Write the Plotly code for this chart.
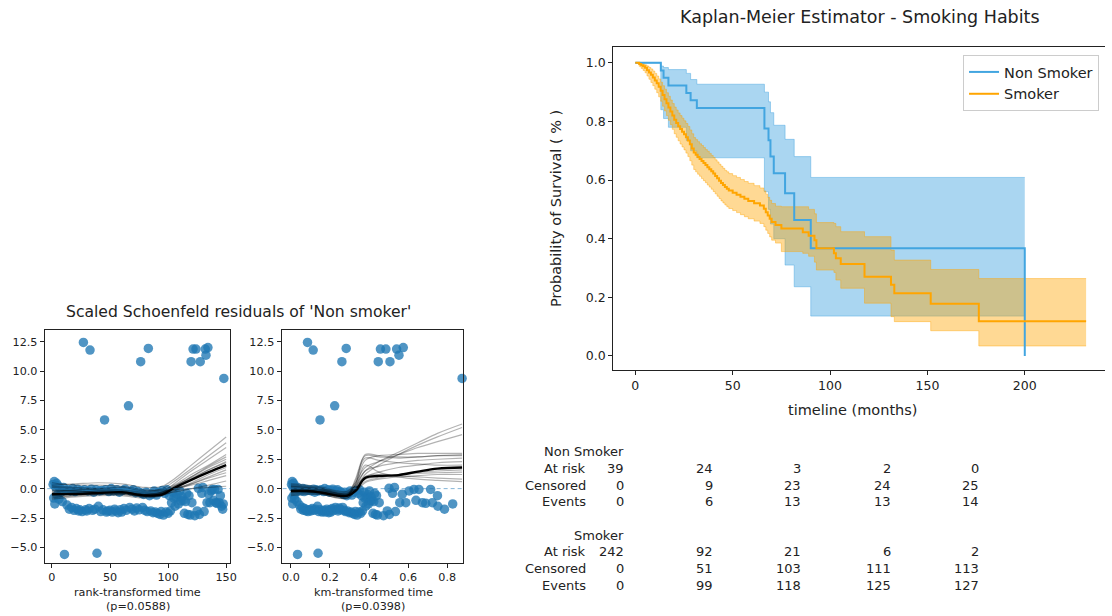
import plotly.graph_objects as go

W, H = 1112, 616
FONT = "DejaVu Sans"

# ---------------- Kaplan-Meier: Non Smoker ----------------
ns_time = [0, 13.1, 14.5, 17.0, 26.2, 28.4, 31.6, 66.3, 68.4, 69.4, 71.1, 76.9, 81.6, 90.1, 200.0]
ns_surv = [1.0, 0.974, 0.949, 0.923, 0.897, 0.872, 0.846, 0.776, 0.736, 0.680, 0.623, 0.555, 0.464, 0.367, 0.0]
ns_ci_time = [0, 13.1, 14.5, 17.0, 26.2, 28.4, 31.6, 66.3, 68.4, 69.4, 71.1, 76.9, 81.6, 90.1, 200.0]
ns_ci_upper = [1.0, 0.989, 0.984, 0.977, 0.964, 0.943, 0.927, 0.900, 0.867, 0.830, 0.787, 0.739, 0.680, 0.609, 0.609]
ns_ci_lower = [1.0, 0.840, 0.810, 0.780, 0.735, 0.700, 0.676, 0.560, 0.500, 0.450, 0.400, 0.310, 0.236, 0.136, 0.136]

# ---------------- Kaplan-Meier: Smoker ----------------
sm_time = [0, 2, 3, 4, 5, 6, 7, 8, 9, 10,
           11, 12, 13, 14, 15, 16, 17, 18, 19, 20,
           21, 22, 23, 24, 25, 26, 27, 28, 29, 30,
           31, 32, 33, 34, 35, 36, 37, 38, 39, 40,
           41, 42, 43, 44, 45, 46, 47, 48, 50, 52,
           54, 56, 58, 61, 64, 66, 67, 68, 69, 70,
           72, 75, 86, 89, 92, 93, 102, 103, 105.5, 117.7,
           131.3, 133, 151.7, 176.4, 231.5]
sm_surv = [1.0, 0.996, 0.992, 0.988, 0.983, 0.975, 0.967, 0.959, 0.950, 0.940,
           0.930, 0.918, 0.905, 0.890, 0.876, 0.862, 0.848, 0.834, 0.820, 0.806,
           0.795, 0.784, 0.774, 0.765, 0.756, 0.746, 0.735, 0.722, 0.708, 0.694,
           0.686, 0.679, 0.672, 0.665, 0.658, 0.651, 0.644, 0.637, 0.630, 0.622,
           0.614, 0.606, 0.598, 0.590, 0.583, 0.576, 0.570, 0.564, 0.557, 0.550,
           0.543, 0.536, 0.529, 0.521, 0.513, 0.502, 0.490, 0.479, 0.468, 0.457,
           0.447, 0.435, 0.422, 0.410, 0.395, 0.367, 0.350, 0.333, 0.314, 0.270,
           0.243, 0.214, 0.178, 0.118, 0.118]
sm_ci_lower = [1.0, 0.988, 0.981, 0.974, 0.966, 0.955, 0.944, 0.933, 0.922, 0.910,
               0.898, 0.884, 0.869, 0.852, 0.836, 0.820, 0.804, 0.789, 0.773, 0.758,
               0.746, 0.734, 0.723, 0.713, 0.703, 0.692, 0.680, 0.666, 0.651, 0.636,
               0.628, 0.620, 0.613, 0.605, 0.598, 0.591, 0.583, 0.576, 0.569, 0.561,
               0.553, 0.545, 0.537, 0.529, 0.522, 0.515, 0.509, 0.503, 0.496, 0.489,
               0.482, 0.475, 0.468, 0.460, 0.452, 0.441, 0.429, 0.418, 0.406, 0.395,
               0.385, 0.356, 0.350, 0.340, 0.320, 0.293, 0.285, 0.259, 0.231, 0.180,
               0.134, 0.117, 0.086, 0.034, 0.034]
sm_ci_upper = [1.0, 0.999, 0.998, 0.996, 0.993, 0.989, 0.984, 0.979, 0.972, 0.964,
               0.955, 0.945, 0.934, 0.922, 0.910, 0.898, 0.886, 0.873, 0.861, 0.849,
               0.839, 0.829, 0.820, 0.811, 0.802, 0.793, 0.783, 0.771, 0.758, 0.745,
               0.738, 0.731, 0.724, 0.718, 0.711, 0.704, 0.698, 0.691, 0.684, 0.677,
               0.669, 0.662, 0.654, 0.647, 0.640, 0.633, 0.628, 0.622, 0.615, 0.609,
               0.602, 0.595, 0.589, 0.581, 0.573, 0.563, 0.552, 0.541, 0.531, 0.520,
               0.511, 0.509, 0.509, 0.500, 0.485, 0.455, 0.452, 0.441, 0.424, 0.407,
               0.361, 0.327, 0.295, 0.264, 0.264]

# ---------------- Number-at-risk table ----------------
risk_groups = ["Non Smoker", "Smoker"]
risk_rows = ["At risk", "Censored", "Events"]
ns_counts = [[39, 24, 3, 2, 0], [0, 9, 23, 24, 25], [0, 6, 13, 13, 14]]
sm_counts = [[242, 92, 21, 6, 2], [0, 51, 103, 111, 113], [0, 99, 118, 125, 127]]

# ---------------- Scaled Schoenfeld residuals ('Non smoker') ----------------
res_rank = [1, 1.5, 2, 2.5, 3, 4, 4.5, 5, 6, 7,
            8, 9, 10, 12, 13, 14, 15, 16, 17, 18,
            19, 20, 21, 22, 23, 24, 25, 26, 28, 29,
            30, 31, 32, 34, 35, 36, 37, 38, 40, 41,
            42, 43, 44, 46, 47, 48, 49, 50, 51, 52,
            53, 54, 55, 56, 57, 58, 59, 60, 61, 62,
            63, 64, 67, 68, 69, 70, 71, 72, 73, 74,
            75, 77, 78, 79, 80, 81, 82, 84, 85, 86,
            87, 88, 89, 90, 91, 92, 93, 94, 95, 96,
            97, 98, 99, 100, 101, 102, 103, 104, 105, 106,
            107, 108, 109, 110, 111, 112, 113, 114, 115, 116,
            117, 118, 119, 120.5, 123, 125, 126, 127, 129, 130,
            131, 133.5, 135, 136, 137, 138, 139, 140, 141, 142,
            143, 144, 145, 146, 147, 147.5,
            27.1, 32.8, 45.3, 65.9, 76.4, 83.0, 119.8, 121.5, 124.0, 127.7,
            132.0, 132.6, 134.3, 148.0, 10.8, 38.8]
res_km = [0.003, 0.005, 0.007, 0.009, 0.010, 0.014, 0.015, 0.017, 0.020, 0.024,
          0.027, 0.031, 0.034, 0.041, 0.044, 0.048, 0.051, 0.054, 0.058, 0.061,
          0.065, 0.068, 0.071, 0.075, 0.078, 0.082, 0.085, 0.088, 0.095, 0.099,
          0.102, 0.105, 0.109, 0.116, 0.119, 0.122, 0.126, 0.129, 0.136, 0.139,
          0.143, 0.146, 0.150, 0.156, 0.160, 0.163, 0.167, 0.170, 0.173, 0.177,
          0.180, 0.184, 0.187, 0.190, 0.194, 0.197, 0.201, 0.204, 0.207, 0.211,
          0.214, 0.218, 0.228, 0.231, 0.235, 0.238, 0.241, 0.245, 0.248, 0.252,
          0.255, 0.262, 0.265, 0.269, 0.272, 0.275, 0.279, 0.286, 0.289, 0.294,
          0.298, 0.303, 0.307, 0.312, 0.316, 0.321, 0.325, 0.330, 0.334, 0.339,
          0.343, 0.348, 0.352, 0.357, 0.361, 0.366, 0.370, 0.375, 0.379, 0.384,
          0.388, 0.393, 0.397, 0.402, 0.406, 0.411, 0.415, 0.420, 0.424, 0.429,
          0.433, 0.438, 0.443, 0.452, 0.474, 0.493, 0.502, 0.504, 0.520, 0.530,
          0.535, 0.557, 0.570, 0.588, 0.605, 0.630, 0.640, 0.655, 0.673, 0.690,
          0.715, 0.724, 0.750, 0.752, 0.786, 0.828,
          0.085, 0.114, 0.149, 0.224, 0.261, 0.283, 0.447, 0.458, 0.486, 0.507,
          0.541, 0.553, 0.575, 0.876, 0.034, 0.139]
res_value = [0.35, -0.8, 0.6, -1.3, 0.15, 0.45, -0.55, 0.25, -0.9, 0.05,
             -0.3, -1.1, 0.1, -0.15, -1.4, -0.1, -1.75, -0.2, -1.6, 0.0,
             -1.85, -0.25, -1.7, -0.05, -1.9, -1.8, -0.15, -1.95, -0.1, -1.8,
             -1.9, -0.2, -1.7, -0.05, -1.85, -0.3, -1.75, -0.1, -1.5, -0.2,
             -1.95, -0.15, -1.8, -0.1, -2.0, -1.9, -0.25, -1.85, 0.0, -2.0,
             -0.2, -1.75, -1.9, -0.1, -2.05, -0.3, -1.8, -2.0, -0.15, -1.7,
             -0.05, -1.85, -1.6, -0.2, -1.75, -0.1, -1.9, -0.35, -1.65, -0.25,
             -1.8, -0.4, -1.6, -0.5, -1.85, -0.3, -1.95, -0.6, -1.9, -0.45,
             -2.05, -0.2, -2.0, -0.55, -2.1, -0.3, -2.2, -1.95, -0.15, -2.25,
             -0.4, -2.0, -0.1, -2.1, -0.6, -1.9, -1.2, -0.3, -0.8, -1.5,
             -0.75, -0.5, -1.3, -0.2, -1.05, -0.7, -1.0, -2.1, -1.1, -0.4,
             -2.2, -0.6, -2.25, -1.2, -2.3, -1.9, 0.03, -2.2, -0.4, 0.1,
             -1.95, -1.2, -0.47, -1.2, -0.2, -0.07, -1.0, -0.07, -1.2, -1.25,
             -0.07, -1.2, -0.6, -1.5, -1.75, -1.3,
             12.44, 11.79, 5.85, 7.05, 10.8, 11.93, 10.8, 11.88, 11.88, 10.8,
             11.88, 11.36, 12.0, 9.38, -5.6, -5.5]

# Bootstrapped lowess fits (grey) and the lowess fit (black), rank scale
rank_knots = [0, 20, 40, 60, 80, 95, 105, 120, 135, 150]
rank_boot = [
    [0.3, 0.4, 0.5, 0.4, 0.1, 0.2, 0.8, 2.0, 3.2, 4.4],
    [-0.2, -0.1, 0.0, 0.1, -0.2, 0.0, 0.6, 1.7, 2.8, 3.9],
    [-0.6, -0.5, -0.4, -0.3, -0.5, -0.3, 0.4, 1.5, 2.5, 3.5],
    [0.5, 0.3, 0.3, 0.2, -0.1, -0.1, 0.3, 1.2, 2.0, 2.9],
    [-0.4, -0.4, -0.3, -0.4, -0.7, -0.5, 0.1, 1.0, 1.9, 2.7],
    [-0.8, -0.6, -0.5, -0.5, -0.6, -0.4, 0.2, 1.0, 1.8, 2.5],
    [-0.3, -0.3, -0.2, -0.3, -0.5, -0.4, 0.0, 0.8, 1.6, 2.3],
    [0.1, 0.0, -0.1, -0.2, -0.4, -0.3, 0.2, 0.9, 1.6, 2.2],
    [-0.5, -0.5, -0.4, -0.4, -0.6, -0.5, -0.1, 0.5, 1.2, 1.8],
    [-0.9, -0.7, -0.6, -0.6, -0.8, -0.6, -0.2, 0.4, 1.0, 1.6],
    [-0.3, -0.2, -0.3, -0.4, -0.6, -0.4, 0.0, 0.4, 0.9, 1.35],
    [-0.1, -0.2, -0.3, -0.3, -0.5, -0.3, 0.0, 0.3, 0.7, 1.1],
    [-0.7, -0.6, -0.5, -0.5, -0.7, -0.5, -0.3, 0.0, 0.3, 0.65],
    [0.2, 0.1, 0.0, -0.1, -0.3, -0.2, -0.1, 0.0, 0.1, 0.2],
]
rank_fit = [-0.48, -0.45, -0.38, -0.3, -0.58, -0.5, 0.05, 0.75, 1.4, 2.0]

# Same fits on the km-transformed scale
km_knots = [0, 0.08, 0.16, 0.24, 0.29, 0.33, 0.38, 0.45, 0.55, 0.65, 0.75, 0.876]
km_boot = [
    [0.2, 0.1, 0.0, -0.3, -0.3, 0.3, 1.5, 2.3, 3.1, 3.9, 4.7, 5.5],
    [-0.1, -0.1, -0.2, -0.4, -0.4, 0.0, 1.2, 2.0, 2.9, 3.7, 4.4, 5.2],
    [0.4, 0.3, 0.1, -0.2, -0.2, 0.5, 1.8, 2.3, 2.9, 3.5, 4.0, 4.6],
    [-0.4, -0.3, -0.4, -0.7, -0.6, 0.4, 2.4, 2.8, 2.9, 3.0, 3.0, 3.0],
    [0.0, 0.0, -0.2, -0.5, -0.5, 0.8, 2.8, 2.7, 2.6, 2.7, 2.8, 2.9],
    [-0.6, -0.5, -0.5, -0.8, -0.8, 0.0, 1.5, 1.9, 2.2, 2.4, 2.5, 2.6],
    [0.3, 0.2, 0.0, -0.4, -0.4, 0.2, 1.0, 1.4, 1.8, 2.0, 2.2, 2.3],
    [-0.3, -0.3, -0.4, -0.7, -0.7, -0.2, 0.6, 0.9, 1.2, 1.4, 1.5, 1.6],
    [-0.2, -0.2, -0.3, -0.5, -0.6, -0.3, 0.5, 0.8, 1.0, 1.1, 1.2, 1.2],
    [-0.5, -0.4, -0.5, -0.8, -0.8, -0.2, 1.0, 1.2, 1.1, 1.0, 0.9, 0.8],
    [0.1, 0.0, -0.1, -0.4, -0.5, 0.1, 2.0, 1.4, 1.0, 0.8, 0.7, 0.6],
    [-0.1, -0.1, -0.3, -0.6, -0.6, 0.6, 2.6, 2.4, 2.2, 2.1, 2.0, 2.0],
    [-0.3, -0.2, -0.3, -0.6, -0.6, 0.3, 2.9, 2.8, 2.7, 2.7, 2.8, 2.8],
    [0.2, 0.1, -0.1, -0.5, -0.5, 0.0, 0.8, 1.0, 1.2, 1.3, 1.35, 1.4],
]
km_fit = [-0.2, -0.2, -0.35, -0.6, -0.6, -0.2, 0.9, 1.08, 1.15, 1.45, 1.7, 1.8]

res_yticks = [-5.0, -2.5, 0.0, 2.5, 5.0, 7.5, 10.0, 12.5]


def px(x):
    return x / W


def py(y):
    return 1 - y / H


def fmt(v):
    return f"{v:.1f}".replace("-", "\u2212")


BLUE = "rgb(66,165,224)"
BLUE_FILL = "rgba(66,165,224,0.45)"
ORANGE = "rgb(255,165,0)"
ORANGE_FILL = "rgba(255,165,0,0.42)"
DOT = "rgba(31,119,180,0.78)"
GREY = "rgba(0,0,0,0.3)"

fig = go.Figure()

# --- residual panels ---
for xa, ya, xs, knots, boot, fit in (
    ("x", "y", res_rank, rank_knots, rank_boot, rank_fit),
    ("x2", "y2", res_km, km_knots, km_boot, km_fit),
):
    fig.add_trace(go.Scatter(x=xs, y=res_value, mode="markers", xaxis=xa, yaxis=ya,
                             marker=dict(size=9.5, color=DOT, line=dict(width=0)),
                             cliponaxis=False, showlegend=False, hoverinfo="skip"))
    for line in boot:
        fig.add_trace(go.Scatter(x=knots, y=line, mode="lines", xaxis=xa, yaxis=ya,
                                 line=dict(color=GREY, width=1.2, shape="spline"),
                                 showlegend=False, hoverinfo="skip"))
    fig.add_trace(go.Scatter(x=knots, y=fit, mode="lines", xaxis=xa, yaxis=ya,
                             line=dict(color="black", width=2.4, shape="spline"),
                             showlegend=False, hoverinfo="skip"))
    fig.add_trace(go.Scatter(x=[knots[0] - 10, knots[-1] + 10], y=[0, 0], mode="lines",
                             xaxis=xa, yaxis=ya,
                             line=dict(color="rgba(31,119,180,0.55)", width=1, dash="4px,3px"),
                             showlegend=False, hoverinfo="skip"))

# --- Kaplan-Meier confidence bands ---
for t, lo, hi, col in ((ns_ci_time, ns_ci_lower, ns_ci_upper, BLUE_FILL),
                       (sm_time, sm_ci_lower, sm_ci_upper, ORANGE_FILL)):
    fig.add_trace(go.Scatter(x=t, y=lo, mode="lines", xaxis="x3", yaxis="y3",
                             line=dict(color=col, width=1, shape="hv"),
                             showlegend=False, hoverinfo="skip"))
    fig.add_trace(go.Scatter(x=t, y=hi, mode="lines", xaxis="x3", yaxis="y3",
                             line=dict(color=col, width=1, shape="hv"),
                             fill="tonexty", fillcolor=col,
                             showlegend=False, hoverinfo="skip"))

# --- Kaplan-Meier survival curves ---
fig.add_trace(go.Scatter(x=ns_time, y=ns_surv, mode="lines", name="Non Smoker",
                         xaxis="x3", yaxis="y3", line=dict(color=BLUE, width=2, shape="hv")))
fig.add_trace(go.Scatter(x=sm_time, y=sm_surv, mode="lines", name="Smoker",
                         xaxis="x3", yaxis="y3", line=dict(color=ORANGE, width=2, shape="hv")))

axis_common = dict(showline=True, linecolor="#222", linewidth=1, ticks="outside",
                   ticklen=4, tickcolor="#222", showgrid=False, zeroline=False)
small_tick = dict(family=FONT, size=11.2, color="#222")
km_tick = dict(family=FONT, size=12.5, color="#222")

res_y = dict(domain=[py(563), py(330)], range=[-6.33, 13.5], tickvals=res_yticks,
             ticktext=[fmt(v) for v in res_yticks], tickfont=small_tick, mirror=True,
             **axis_common)

fig.update_layout(
    width=W, height=H, margin=dict(l=0, r=0, t=0, b=0),
    paper_bgcolor="white", plot_bgcolor="white",
    font=dict(family=FONT, color="#222"),
    xaxis=dict(domain=[px(45), px(231.7)], range=[-6.2, 153.5], anchor="y",
               tickvals=[0, 50, 100, 150], tickfont=small_tick, mirror=True, **axis_common),
    yaxis=dict(anchor="x", **res_y),
    xaxis2=dict(domain=[px(283.3), px(466)], range=[-0.048, 0.881], anchor="y2",
                tickvals=[0.0, 0.2, 0.4, 0.6, 0.8], ticktext=["0.0", "0.2", "0.4", "0.6", "0.8"],
                tickfont=small_tick, mirror=True, **axis_common),
    yaxis2=dict(anchor="x2", **res_y),
    xaxis3=dict(domain=[px(617), 1.0], range=[-11.4, 241.2], anchor="y3",
                tickvals=[0, 50, 100, 150, 200], tickfont=km_tick, mirror=True, **axis_common),
    yaxis3=dict(domain=[py(370), py(47)], range=[-0.048, 1.054], anchor="x3",
                tickvals=[0, 0.2, 0.4, 0.6, 0.8, 1.0],
                ticktext=["0.0", "0.2", "0.4", "0.6", "0.8", "1.0"],
                tickfont=km_tick, mirror=False, **axis_common),
    legend=dict(x=px(1106), y=py(55), xanchor="right", yanchor="top", traceorder="normal",
                bgcolor="rgba(255,255,255,0.9)", bordercolor="#cccccc", borderwidth=1,
                font=dict(family=FONT, size=14.5, color="#222")),
)

ann = []


def text(x, y, s, size, anchor="center", angle=0):
    ann.append(dict(x=px(x), y=py(y), xref="paper", yref="paper", text=s,
                    showarrow=False, xanchor=anchor, yanchor="middle", textangle=angle,
                    font=dict(family=FONT, size=size, color="#222")))


text(865, 17, "Kaplan-Meier Estimator - Smoking Habits", 17.5)
text(559, 208.5, "Probability of Survival ( % )", 14.5, angle=-90)
text(858, 410, "timeline (months)", 14.5)

text(240, 312, "Scaled Schoenfeld residuals of 'Non smoker'", 15.6)
text(138.5, 592.5, "rank-transformed time", 11.2)
text(138.5, 606.5, "(p=0.0588)", 11.2)
text(375.5, 592.5, "km-transformed time", 11.2)
text(375.5, 606.5, "(p=0.0398)", 11.2)

col_x = [630, 719.3, 808.3, 898.3, 987.7]
for g, (group, counts, y0) in enumerate(zip(risk_groups, (ns_counts, sm_counts), (451.7, 535))):
    text(630, y0, group, 13, anchor="right")
    for r, (label, row) in enumerate(zip(risk_rows, counts)):
        yy = y0 + 16.7 * (r + 1)
        text(591.7, yy, label, 13, anchor="right")
        for cx, v in zip(col_x, row):
            text(cx, yy, str(v), 13, anchor="right")

fig.update_layout(annotations=ann)
fig.write_html("out.html")
